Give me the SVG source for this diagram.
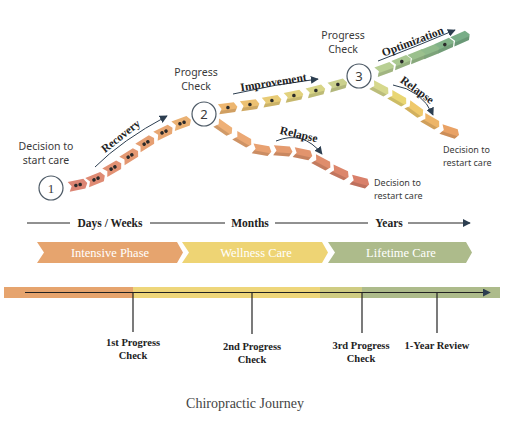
<svg xmlns="http://www.w3.org/2000/svg" xmlns:xlink="http://www.w3.org/1999/xlink" width="505" height="425" viewBox="0 0 505 425">
  <style>
    .sans { font-family: "Noto Sans", "DejaVu Sans", sans-serif; font-size: 10.5px; fill: #3a3a3a; }
    .small { font-size: 9px; }
    .lbl { font-family: "Liberation Serif", "DejaVu Serif", serif; font-size: 11.5px; font-weight: bold; fill: #222; }
    .phase { font-family: "Liberation Serif", "DejaVu Serif", serif; font-size: 12.5px; fill: #ffffff; text-anchor: middle; }
    .tick { font-family: "Liberation Serif", "DejaVu Serif", serif; font-size: 10.5px; font-weight: bold; fill: #222; text-anchor: middle; }
    .step { fill: #ffffff; stroke: #4d5a66; stroke-width: 1.2; }
    .num { font-size: 13px; fill: #3a3a3a; text-anchor: middle; }
    .arc { fill: none; stroke: #2c3e50; stroke-width: 1; }
    .axis { stroke: #222; stroke-width: 1; fill: none; }
    .dot { fill: #2a2a2a; }
  </style>
  <defs>
    <path id="chev" d="M-9.5,-5 L6.5,-5 L9.5,0 L6.5,5 L-9.5,5 L-6.5,0 Z"/>
    <path id="shade" d="M-7.8,1.7 L8.5,1.7 L6.5,5 L-9.5,5 Z" fill="#000" fill-opacity="0.12"/>
    <marker id="head" viewBox="0 0 10 10" refX="9" refY="5" markerWidth="8" markerHeight="8" orient="auto" markerUnits="userSpaceOnUse">
      <path d="M0,0 L10,5 L0,10 Z" fill="#2c3e50"/>
    </marker>
    <marker id="axhead" viewBox="0 0 10 10" refX="9" refY="5" markerWidth="8" markerHeight="8" orient="auto" markerUnits="userSpaceOnUse">
      <path d="M0,0 L10,5 L0,10 Z" fill="#2c3e50"/>
    </marker>
  </defs>

  <!-- connectors: chevron trails and labelled arrows between the checkpoints -->
  <g id="connectors">
    <!-- recovery trail -->
    <g id="trail-recovery">
      <g transform="translate(78,185) rotate(-12)"><use href="#chev" fill="#dc8574"/><circle class="dot" cx="-2.2" cy="0" r="1.8"/><circle class="dot" cx="2.2" cy="0" r="1.8"/></g>
      <g transform="translate(96,179) rotate(-22)"><use href="#chev" fill="#df8b74"/><circle class="dot" cx="-2.2" cy="0" r="1.8"/><circle class="dot" cx="2.2" cy="0" r="1.8"/></g>
      <g transform="translate(113,168) rotate(-30)"><use href="#chev" fill="#e29173"/><circle class="dot" cx="-2.2" cy="0" r="1.8"/><circle class="dot" cx="2.2" cy="0" r="1.8"/></g>
      <g transform="translate(130,156) rotate(-32)"><use href="#chev" fill="#e49872"/><circle class="dot" cx="-2.2" cy="0" r="1.8"/><circle class="dot" cx="2.2" cy="0" r="1.8"/></g>
      <g transform="translate(146,143) rotate(-32)"><use href="#chev" fill="#e69f72"/><circle class="dot" cx="-2.2" cy="0" r="1.8"/><circle class="dot" cx="2.2" cy="0" r="1.8"/></g>
      <g transform="translate(164,132) rotate(-26)"><use href="#chev" fill="#e8a772"/><circle class="dot" cx="-2.2" cy="0" r="1.8"/><circle class="dot" cx="2.2" cy="0" r="1.8"/></g>
      <g transform="translate(182,123) rotate(-20)"><use href="#chev" fill="#eab173"/><circle class="dot" cx="-2.2" cy="0" r="1.8"/><circle class="dot" cx="2.2" cy="0" r="1.8"/></g>
    </g>
    <path class="arc" d="M95,167 Q122,140 167,116" marker-end="url(#head)"/>
    <text class="lbl" transform="translate(123,139) rotate(-38)" text-anchor="middle">Recovery</text>

    <!-- improvement trail -->
    <g id="trail-improvement">
      <g transform="translate(228,108) rotate(-8)"><use href="#chev" fill="#edb670"/><use href="#shade"/><circle class="dot" cx="0" cy="-0.5" r="1.8"/></g>
      <g transform="translate(250,105) rotate(-8)"><use href="#chev" fill="#ecc172"/><use href="#shade"/><circle class="dot" cx="0" cy="-0.5" r="1.8"/></g>
      <g transform="translate(272,101) rotate(-10)"><use href="#chev" fill="#e8cb76"/><use href="#shade"/><circle class="dot" cx="0" cy="-0.5" r="1.8"/></g>
      <g transform="translate(294,96) rotate(-12)"><use href="#chev" fill="#e2d27e"/><use href="#shade"/><circle class="dot" cx="0" cy="-0.5" r="1.8"/></g>
      <g transform="translate(316,91) rotate(-14)"><use href="#chev" fill="#d8d587"/><use href="#shade"/><circle class="dot" cx="0" cy="-0.5" r="1.8"/></g>
      <g transform="translate(338,85) rotate(-16)"><use href="#chev" fill="#cbd18e"/><use href="#shade"/><circle class="dot" cx="0" cy="-0.5" r="1.8"/></g>
    </g>
    <path class="arc" d="M233,94 Q276,84 318,79" marker-end="url(#head)"/>
    <text class="lbl" transform="translate(274,86) rotate(-9)" text-anchor="middle">Improvement</text>

    <!-- first relapse trail -->
    <g id="trail-relapse-1">
      <g transform="translate(224,128) rotate(35)"><use href="#chev" fill="#eeb077"/><use href="#shade"/></g>
      <g transform="translate(243,140) rotate(30)"><use href="#chev" fill="#eba874"/><use href="#shade"/></g>
      <g transform="translate(262,150) rotate(10)"><use href="#chev" fill="#e8a171"/><use href="#shade"/></g>
      <g transform="translate(283,151) rotate(4)"><use href="#chev" fill="#e59b6f"/><use href="#shade"/></g>
      <g transform="translate(303,154) rotate(12)"><use href="#chev" fill="#e2946d"/><use href="#shade"/></g>
      <g transform="translate(322,163) rotate(28)"><use href="#chev" fill="#df8d6c"/><use href="#shade"/></g>
      <g transform="translate(340,173) rotate(25)"><use href="#chev" fill="#dc866b"/><use href="#shade"/></g>
      <g transform="translate(360,182) rotate(15)"><use href="#chev" fill="#d9806a"/><use href="#shade"/></g>
    </g>
    <path class="arc" d="M276,141 Q303,130 322,154" marker-end="url(#head)"/>
    <text class="lbl" transform="translate(298,138) rotate(13)" text-anchor="middle">Relapse</text>

    <!-- optimization trail -->
    <g id="trail-optimization">
      <g transform="translate(385,69) rotate(-20)"><use href="#chev" fill="#b8cf93"/><use href="#shade"/></g>
      <g transform="translate(402,62) rotate(-22)"><use href="#chev" fill="#a9c890"/><use href="#shade"/><circle class="dot" cx="0" cy="-0.5" r="1.8"/></g>
      <g transform="translate(418,56) rotate(-22)"><use href="#chev" fill="#9bc08d"/><use href="#shade"/></g>
      <g transform="translate(431,51) rotate(-22)"><use href="#chev" fill="#8fba8b"/><use href="#shade"/></g>
      <g transform="translate(445,45) rotate(-24)"><use href="#chev" fill="#82b389"/><use href="#shade"/><circle class="dot" cx="0" cy="-0.5" r="1.8"/></g>
      <g transform="translate(461,38) rotate(-24)"><use href="#chev" fill="#78ad87"/><use href="#shade"/></g>
    </g>
    <path class="arc" d="M378,61 Q415,47 455,30" marker-end="url(#head)"/>
    <text class="lbl" transform="translate(414,45) rotate(-21)" text-anchor="middle">Optimization</text>

    <!-- second relapse trail -->
    <g id="trail-relapse-2">
      <g transform="translate(380,89) rotate(28)"><use href="#chev" fill="#d6d88c"/><use href="#shade"/></g>
      <g transform="translate(398,99) rotate(30)"><use href="#chev" fill="#e9d673"/><use href="#shade"/></g>
      <g transform="translate(415,110) rotate(36)"><use href="#chev" fill="#efc96b"/><use href="#shade"/></g>
      <g transform="translate(431,122) rotate(30)"><use href="#chev" fill="#edb568"/><use href="#shade"/></g>
      <g transform="translate(450,132) rotate(18)"><use href="#chev" fill="#e9a265"/><use href="#shade"/></g>
    </g>
    <path class="arc" d="M393,85 Q422,90 433,115" marker-end="url(#head)"/>
    <text class="lbl" transform="translate(415,93) rotate(36)" text-anchor="middle">Relapse</text>
  </g>

  <!-- checkpoints -->
  <g id="step-1">
    <circle class="step" cx="51" cy="188" r="12"/>
    <text class="num" x="51" y="193" font-family="Liberation Serif, serif">1</text>
    <text class="sans" x="46" y="150" text-anchor="middle">Decision to</text>
    <text class="sans" x="46" y="164" text-anchor="middle">start care</text>
  </g>
  <g id="step-2">
    <circle class="step" cx="204" cy="114" r="12"/>
    <text class="num" x="204" y="119" font-family="Noto Sans, sans-serif">2</text>
    <text class="sans" x="196" y="76" text-anchor="middle">Progress</text>
    <text class="sans" x="196" y="90" text-anchor="middle">Check</text>
  </g>
  <g id="step-3">
    <circle class="step" cx="359" cy="76" r="12"/>
    <text class="num" x="359" y="81" font-family="Noto Sans, sans-serif">3</text>
    <text class="sans" x="343" y="39" text-anchor="middle">Progress</text>
    <text class="sans" x="343" y="53" text-anchor="middle">Check</text>
  </g>
  <g id="restart-1">
    <text class="sans small" x="374" y="186">Decision to</text>
    <text class="sans small" x="374" y="198.5">restart care</text>
  </g>
  <g id="restart-2">
    <text class="sans small" x="443" y="153">Decision to</text>
    <text class="sans small" x="443" y="165.5">restart care</text>
  </g>

  <!-- time scale -->
  <g id="time-scale">
    <line class="axis" x1="27" y1="223" x2="70" y2="223"/>
    <line class="axis" x1="150" y1="223" x2="225" y2="223"/>
    <line class="axis" x1="275" y1="223" x2="368" y2="223"/>
    <line x1="408" y1="223" x2="470" y2="223" stroke="#222" stroke-width="1" marker-end="url(#axhead)"/>
    <text class="lbl" x="110" y="227" text-anchor="middle">Days / Weeks</text>
    <text class="lbl" x="250" y="227" text-anchor="middle">Months</text>
    <text class="lbl" x="389" y="227" text-anchor="middle">Years</text>
  </g>

  <!-- care phases -->
  <g id="phase-intensive">
    <path d="M37,242 L177,242 L183,252.5 L177,263 L37,263 L44,252.5 Z" fill="#e6a46e"/>
    <text class="phase" x="110" y="257">Intensive Phase</text>
  </g>
  <g id="phase-wellness">
    <path d="M182,242 L322,242 L328,252.5 L322,263 L182,263 L189,252.5 Z" fill="#eed474"/>
    <text class="phase" x="256" y="257">Wellness Care</text>
  </g>
  <g id="phase-lifetime">
    <path d="M328,242 L466,242 L472,252.5 L466,263 L328,263 L335,252.5 Z" fill="#adbb8b"/>
    <text class="phase" x="401" y="257">Lifetime Care</text>
  </g>

  <!-- review timeline -->
  <g id="timeline">
    <rect x="4" y="287" width="129" height="11" fill="#e6a46e"/>
    <rect x="133" y="287" width="187" height="11" fill="#eed67a"/>
    <rect x="320" y="287" width="42" height="11" fill="#cfcc82"/>
    <rect x="362" y="287" width="138" height="11" fill="#adbb8b"/>
    <line x1="25" y1="292.5" x2="490" y2="292.5" stroke="#222" stroke-width="1.2" marker-end="url(#axhead)"/>
    <line x1="133" y1="292.5" x2="133" y2="332" stroke="#222" stroke-width="1.2"/>
    <line x1="252" y1="292.5" x2="252" y2="334" stroke="#222" stroke-width="1.2"/>
    <line x1="362" y1="292.5" x2="362" y2="333" stroke="#222" stroke-width="1.2"/>
    <line x1="437" y1="292.5" x2="437" y2="333" stroke="#222" stroke-width="1.2"/>
  </g>
  <g id="check-1">
    <text class="tick" x="133" y="346">1st Progress</text>
    <text class="tick" x="133" y="359">Check</text>
  </g>
  <g id="check-2">
    <text class="tick" x="252" y="350">2nd Progress</text>
    <text class="tick" x="252" y="363">Check</text>
  </g>
  <g id="check-3">
    <text class="tick" x="361" y="349">3rd Progress</text>
    <text class="tick" x="361" y="362">Check</text>
  </g>
  <g id="review">
    <text class="tick" x="437" y="349">1-Year Review</text>
  </g>

  <text x="245" y="408" text-anchor="middle" font-family="Liberation Serif, serif" font-size="14" fill="#444">Chiropractic Journey</text>
</svg>
